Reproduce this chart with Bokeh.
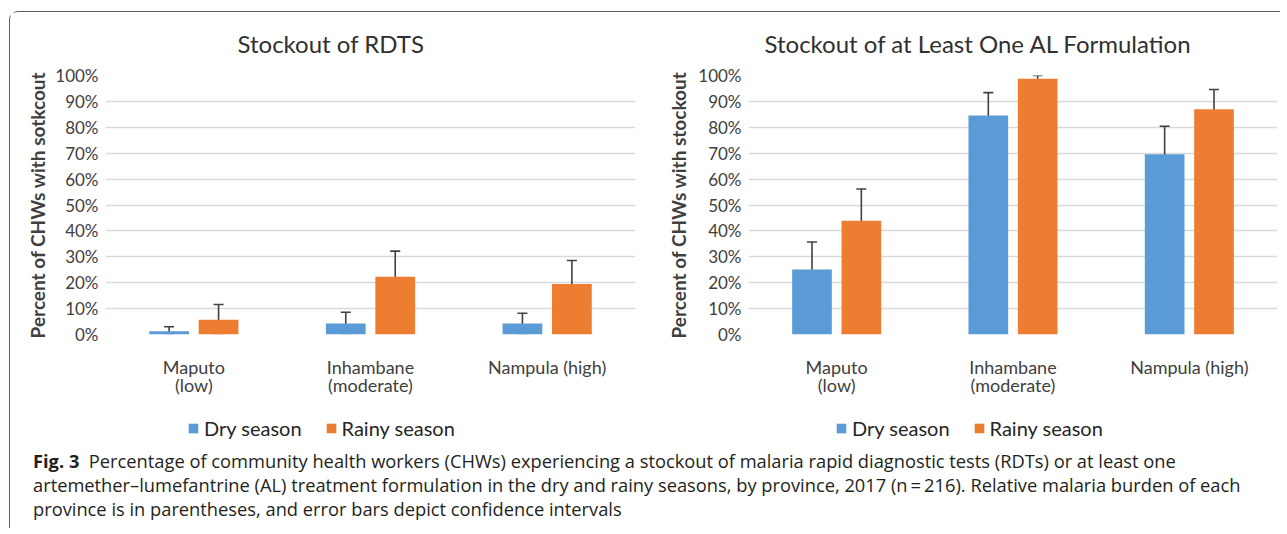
from bokeh.plotting import figure
from bokeh.models import (Range1d, FactorRange, FixedTicker, PrintfTickFormatter, ColumnDataSource,
                          Whisker, TeeHead, Legend, LegendItem, Title, Div)
from bokeh.layouts import row, column
from bokeh.transform import dodge
from bokeh.embed import file_html
from bokeh.resources import INLINE

# ---------------- data ----------------
provinces = ["Maputo\n(low)", "Inhambane\n(moderate)", "Nampula (high)"]
seasons = ["Dry season", "Rainy season"]
y_ticks = [0, 10, 20, 30, 40, 50, 60, 70, 80, 90, 100]

# Stockout of RDTs (percent)
rdt_dry = [1.3, 4.2, 4.2]
rdt_dry_lo = [0.4, 0.4, 0.4]
rdt_dry_hi = [3.0, 8.6, 8.2]
rdt_rainy = [5.7, 22.3, 19.5]
rdt_rainy_lo = [0.4, 12.4, 10.5]
rdt_rainy_hi = [11.6, 32.2, 28.6]

# Stockout of at least one AL formulation (percent)
al_dry = [25.1, 84.6, 69.6]
al_dry_lo = [14.4, 76.5, 59.0]
al_dry_hi = [35.7, 93.4, 80.4]
al_rainy = [43.9, 98.7, 87.0]
al_rainy_lo = [32.0, 97.3, 79.1]
al_rainy_hi = [56.2, 100.0, 94.6]

titles = ["Stockout of RDTS", "Stockout of at Least One AL Formulation"]
y_labels = ["Percent of CHWs with sotkcout", "Percent of CHWs with stockout"]

caption_lines = [
    "Percentage of community health workers (CHWs) experiencing a stockout of malaria rapid diagnostic tests (RDTs) or at least one",
    "artemether\u2013lumefantrine (AL) treatment formulation in the dry and rainy seasons, by province, 2017 (n\u2009=\u2009216). Relative malaria burden of each",
    "province is in parentheses, and error bars depict confidence intervals",
]

BLUE = "#5B9BD5"
ORANGE = "#ED7D31"
TEXT = "#404040"
FONT = "Lato"


def make_source(dry, dry_lo, dry_hi, rainy, rainy_lo, rainy_hi):
    return ColumnDataSource(dict(x=provinces, dry=dry, dry_lo=dry_lo, dry_hi=dry_hi,
                                 rainy=rainy, rainy_lo=rainy_lo, rainy_hi=rainy_hi))


def make_chart(src, title, ylabel, width, border_left, border_right, title_offset,
               title_standoff, label_standoff):
    x_range = FactorRange(*provinces)
    p = figure(x_range=x_range, y_range=Range1d(0, 100), width=width, height=386,
               output_backend="svg", toolbar_location=None,
               min_border_left=border_left, min_border_right=border_right,
               min_border_top=62, min_border_bottom=60)
    p.outline_line_color = None
    p.background_fill_color = "white"
    p.border_fill_color = "white"

    p.title = Title(text=title, align="left", offset=title_offset, standoff=title_standoff,
                    vertical_align="top",
                    text_font=FONT, text_font_size="24px", text_font_style="normal",
                    text_color="#303030")

    off = 0.14
    bw = 0.225
    p.vbar(x=dodge("x", -off, range=x_range), top="dry", width=bw, source=src,
           fill_color=BLUE, line_color=None)
    p.vbar(x=dodge("x", off, range=x_range), top="rainy", width=bw, source=src,
           fill_color=ORANGE, line_color=None)

    for o, lo, hi in [(-off, "dry_lo", "dry_hi"), (off, "rainy_lo", "rainy_hi")]:
        w = Whisker(source=src, base=dodge("x", o, range=x_range), lower=lo, upper=hi,
                    line_color=TEXT, line_width=1.6,
                    upper_head=TeeHead(size=10, line_color=TEXT, line_width=1.6),
                    lower_head=TeeHead(size=10, line_color=TEXT, line_width=1.6))
        p.add_layout(w)

    # axes
    p.yaxis.ticker = FixedTicker(ticks=y_ticks)
    p.yaxis.formatter = PrintfTickFormatter(format="%d%%")
    p.yaxis.major_label_text_font = FONT
    p.yaxis.major_label_text_font_size = "17px"
    p.yaxis.major_label_text_color = TEXT
    p.yaxis.major_tick_line_color = None
    p.yaxis.major_tick_out = 0
    p.yaxis.major_tick_in = 0
    p.yaxis.minor_tick_line_color = None
    p.yaxis.axis_line_color = None
    p.yaxis.major_label_standoff = 7
    p.yaxis.axis_label = ylabel
    p.yaxis.axis_label_text_font = FONT
    p.yaxis.axis_label_text_font_style = "bold"
    p.yaxis.axis_label_text_font_size = "19px"
    p.yaxis.axis_label_text_color = TEXT
    p.yaxis.axis_label_standoff = label_standoff

    p.xaxis.major_label_text_font = FONT
    p.xaxis.major_label_text_font_size = "18px"
    p.xaxis.major_label_text_color = TEXT
    p.xaxis.major_label_text_line_height = 0.82
    p.xaxis.major_tick_line_color = None
    p.xaxis.major_tick_out = 0
    p.xaxis.major_tick_in = 0
    p.xaxis.axis_line_color = None
    p.xaxis.major_label_standoff = 21

    p.xgrid.grid_line_color = None
    p.ygrid.grid_line_color = "#D9D9D9"
    p.ygrid.grid_line_width = 1.6
    return p


def make_legend(src, width, legend_x):
    # zero-height bars from the same data: only their legend entries are visible
    lf = figure(width=width, height=46, x_range=FactorRange(*provinces), y_range=Range1d(0, 100),
                output_backend="svg", toolbar_location=None,
                min_border_left=0, min_border_right=0, min_border_top=0, min_border_bottom=0)
    lf.axis.visible = False
    lf.grid.visible = False
    lf.outline_line_color = None
    lf.background_fill_color = "white"
    lf.border_fill_color = "white"
    r_dry = lf.vbar(x="x", bottom="dry", top="dry", width=0.2, source=src,
                    fill_color=BLUE, line_color=None)
    r_rainy = lf.vbar(x="x", bottom="rainy", top="rainy", width=0.2, source=src,
                      fill_color=ORANGE, line_color=None)
    legend = Legend(items=[LegendItem(label=seasons[0], renderers=[r_dry]),
                           LegendItem(label=seasons[1], renderers=[r_rainy])],
                    orientation="horizontal", location=(legend_x, 4),
                    glyph_width=12, glyph_height=12, label_standoff=5, spacing=23,
                    padding=0, margin=0, border_line_color=None, background_fill_color="white",
                    background_fill_alpha=1.0,
                    label_text_font=FONT, label_text_font_size="20px", label_text_color="#262626")
    lf.add_layout(legend, "center")
    return lf


src_rdt = make_source(rdt_dry, rdt_dry_lo, rdt_dry_hi, rdt_rainy, rdt_rainy_lo, rdt_rainy_hi)
src_al = make_source(al_dry, al_dry_lo, al_dry_hi, al_rainy, al_rainy_lo, al_rainy_hi)

p1 = make_chart(src_rdt, titles[0], y_labels[0], width=640, border_left=95, border_right=15,
                title_offset=132, title_standoff=32, label_standoff=3)
p2 = make_chart(src_al, titles[1], y_labels[1], width=629, border_left=98, border_right=2,
                title_offset=16, title_standoff=32, label_standoff=5)
l1 = make_legend(src_rdt, 640, 177)
l2 = make_legend(src_al, 629, 185)

cap_html = (
    "<div style=\"font-family:'Open Sans',sans-serif;font-size:18.3px;line-height:24px;"
    "color:#231f20;padding-left:18px;white-space:nowrap\">"
    "<b>Fig. 3</b>&nbsp;&nbsp;" + caption_lines[0] + "<br>" + caption_lines[1] + "<br>"
    + caption_lines[2] + "</div>"
)
caption = Div(text=cap_html, width=1260, height=74)

layout = column(row(p1, p2), row(l1, l2), caption,
                styles={"border-top": "1.6px solid #5f5f5f", "border-left": "1.6px solid #5f5f5f",
                        "border-top-left-radius": "9px", "margin-top": "11px", "margin-left": "9px"})

open("out.html", "w").write(file_html(layout, INLINE))
